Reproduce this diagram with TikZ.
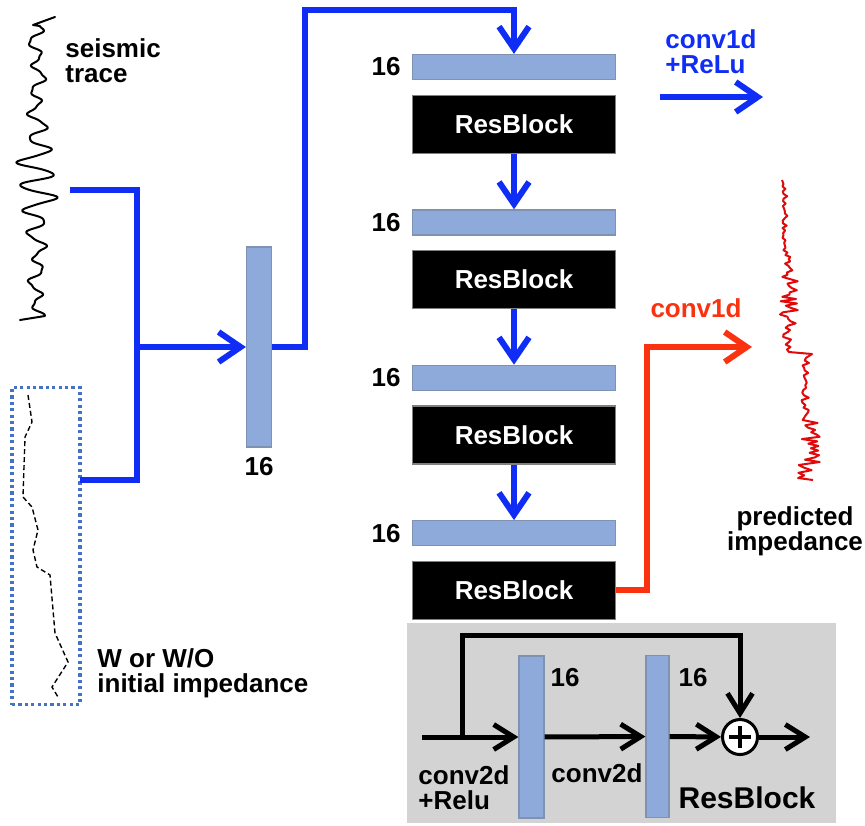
\documentclass[tikz,border=0pt]{standalone}
\usepackage{fontspec}
\setmainfont{Liberation Sans}
\usepackage{tikz}
\usetikzlibrary{arrows.meta, positioning, calc}

\definecolor{netblue}{RGB}{15,45,245}
\definecolor{netred}{RGB}{250,50,15}
\definecolor{tracered}{RGB}{225,10,10}
\definecolor{layerfill}{RGB}{142,170,219}
\definecolor{layeredge}{RGB}{128,146,178}
\definecolor{dotblue}{RGB}{68,114,196}
\definecolor{insetgray}{RGB}{211,211,211}

\begin{document}
\begin{tikzpicture}[
      x=0.5pt, y=-0.5pt,
      >={Straight Barb[length=11pt,width=15pt]},
      node distance = 7.25pt and 5.5pt,
      txt/.style = {
        font=\fontsize{13}{12.5}\selectfont\bfseries,
        inner sep=0pt,
        align=left
      },
      hbar/.style = {
        draw=layeredge,
        fill=layerfill,
        line width=0.6pt,
        minimum width=101.5pt,
        minimum height=12.5pt,
        inner sep=0pt
      },
      vbar/.style = {
        draw=layeredge,
        fill=layerfill,
        line width=0.6pt,
        minimum width=12.5pt,
        minimum height=100pt,
        inner sep=0pt
      },
      resblock/.style = {
        draw=gray,
        fill=black,
        text=white,
        line width=0.6pt,
        minimum width=101.5pt,
        minimum height=29pt,
        inner sep=0pt,
        font=\fontsize{13}{13}\selectfont\bfseries
      },
      blueline/.style = {draw=netblue, line width=3pt},
      bluearrow/.style = {blueline, ->},
      redarrow/.style = {draw=netred, line width=3pt, ->},
      blackarrow/.style = {
        draw=black,
        line width=2.5pt,
        ->,
        >={Straight Barb[length=10pt,width=12.5pt]}
      }
    ]

    \useasboundingbox (0,0) rectangle (865,825);

    % input traces
    \draw[line width=1pt, line join=round, line cap=round]
      (55,17) -- (33,25) --
      plot[domain=26:316, samples=400]
        ({37 + (6 + 13*exp(-((\x-180)/42)*((\x-180)/42)))*sin(15*\x) + 2.5*sin(6*\x) + 1.5*sin(37*\x)}, \x)
      -- (20,320);
    \node[txt, anchor=west] (seis) at (65,61) {seismic\\trace};
    \coordinate (trtap) at (70,190);

    \node[draw=dotblue, line width=1.8pt, dash pattern=on 1.6pt off 1.6pt,
          minimum width=34pt, minimum height=158.5pt, inner sep=0pt] (imp) at (46,546) {};
    \draw[line width=0.7pt, dash pattern=on 2.5pt off 1.5pt]
      (28,395) -- (32,422) -- (25,437) -- (23,497) -- (32,507) -- (38,530) -- (33,550)
      -- (37,567) -- (50,575) -- (55,633) -- (68,662) -- (52,687) -- (58,697);
    \node[txt, anchor=west] (implbl) at (97,673) {W or W/O\\initial impedance};
    \coordinate (impout) at (80,480);

    % first layer
    \coordinate (join) at (137,347);
    \node[vbar] (bar0) at (259,347) {};
    \node[txt, below=4.5pt of bar0] (n0) {16};

    \draw[blueline] (trtap) -| (join) |- (impout);
    \draw[bluearrow] (join) -- (bar0);

    % resblock column
    \node[hbar] (bar1) at (514,67) {};
    \node[resblock, below=of bar1] (box1) {ResBlock};
    \node[hbar, below=27.75pt of box1] (bar2) {};
    \node[resblock, below=of bar2] (box2) {ResBlock};
    \node[hbar, below=27.75pt of box2] (bar3) {};
    \node[resblock, below=of bar3] (box3) {ResBlock};
    \node[hbar, below=27.75pt of box3] (bar4) {};
    \node[resblock, below=of bar4] (box4) {ResBlock};

    \node[txt, left=of bar1] (n1) {16};
    \node[txt, left=of bar2] (n2) {16};
    \node[txt, left=of bar3] (n3) {16};
    \node[txt, left=of bar4] (n4) {16};

    \coordinate (up) at (305,10);
    \draw[bluearrow] (bar0.east) -| (up) -| (bar1.north);
    \draw[bluearrow] (box1) -- (bar2);
    \draw[bluearrow] (box2) -- (bar3);
    \draw[bluearrow] (box3) -- (bar4);

    % legend arrow
    \coordinate (relu0) at (660,97);
    \coordinate (relu1) at (763,97);
    \draw[bluearrow] (relu0) -- (relu1);
    \node[txt, text=netblue, anchor=west] (relulbl) at (665,52) {conv1d\\+ReLu};

    % output
    \coordinate (redknee) at (647,347);
    \coordinate (predtip) at (752,347);
    \draw[redarrow] (box4.east) -| (redknee) -- (predtip);
    \node[txt, text=netred] (convlbl) at (696,308) {conv1d};

    \pgfmathsetseed{17}
    \draw[draw=tracered, line width=1pt, line join=round]
      (782,180) --
      plot[domain=184:255, samples=30] ({785+2.5*rand}, \x) --
      plot[domain=257:330, samples=34] ({789+9*rand}, \x) --
      plot[domain=332:352, samples=9] ({788+5*rand}, \x) --
      (812,354) --
      plot[domain=358:420, samples=26] ({805+4*rand}, \x) --
      plot[domain=423:462, samples=18] ({809+11*rand}, \x) --
      plot[domain=465:478, samples=6] ({804+8*rand}, \x) --
      (813,480);
    \node[txt, align=center] (predlbl) at (795,531) {predicted\\impedance};

    % resblock detail
    \node[fill=insetgray, minimum width=214.5pt, minimum height=100pt, inner sep=0pt] (inset) at (621.5,723) {};
    \node[vbar, minimum height=81pt] (barA) at (531.5,737) {};
    \node[vbar, minimum width=11.5pt, minimum height=81pt] (barB) at (657.5,736.5) {};
    \node[draw, circle, fill=white, line width=1.5pt, minimum size=17.5pt, inner sep=0pt] (plus) at (740,737) {};
    \draw[line width=2pt] ([xshift=-5.5pt]plus.center) -- ([xshift=5.5pt]plus.center);
    \draw[line width=2pt] ([yshift=-5.5pt]plus.center) -- ([yshift=5.5pt]plus.center);

    \coordinate (rin) at (422,737);
    \coordinate (rskip) at (462,737);
    \coordinate (rout) at (810,737);
    \draw[blackarrow] (rin) -- (barA);
    \draw[blackarrow] (rskip) -- ++(0,-102) -| (plus.north);
    \draw[blackarrow] (barA) -- (barB);
    \draw[blackarrow] (barB) -- (plus);
    \draw[blackarrow] (plus) -- (rout);

    \node[txt] (nA) at (565,678) {16};
    \node[txt] (nB) at (693,678) {16};
    \node[txt, anchor=west] (c2a) at (418,788) {conv2d\\+Relu};
    \node[txt] (c2b) at (597,773) {conv2d};
    \node[txt, font=\fontsize{15}{15}\selectfont\bfseries] (rblbl) at (747,798) {ResBlock};

  \end{tikzpicture}
\end{document}
